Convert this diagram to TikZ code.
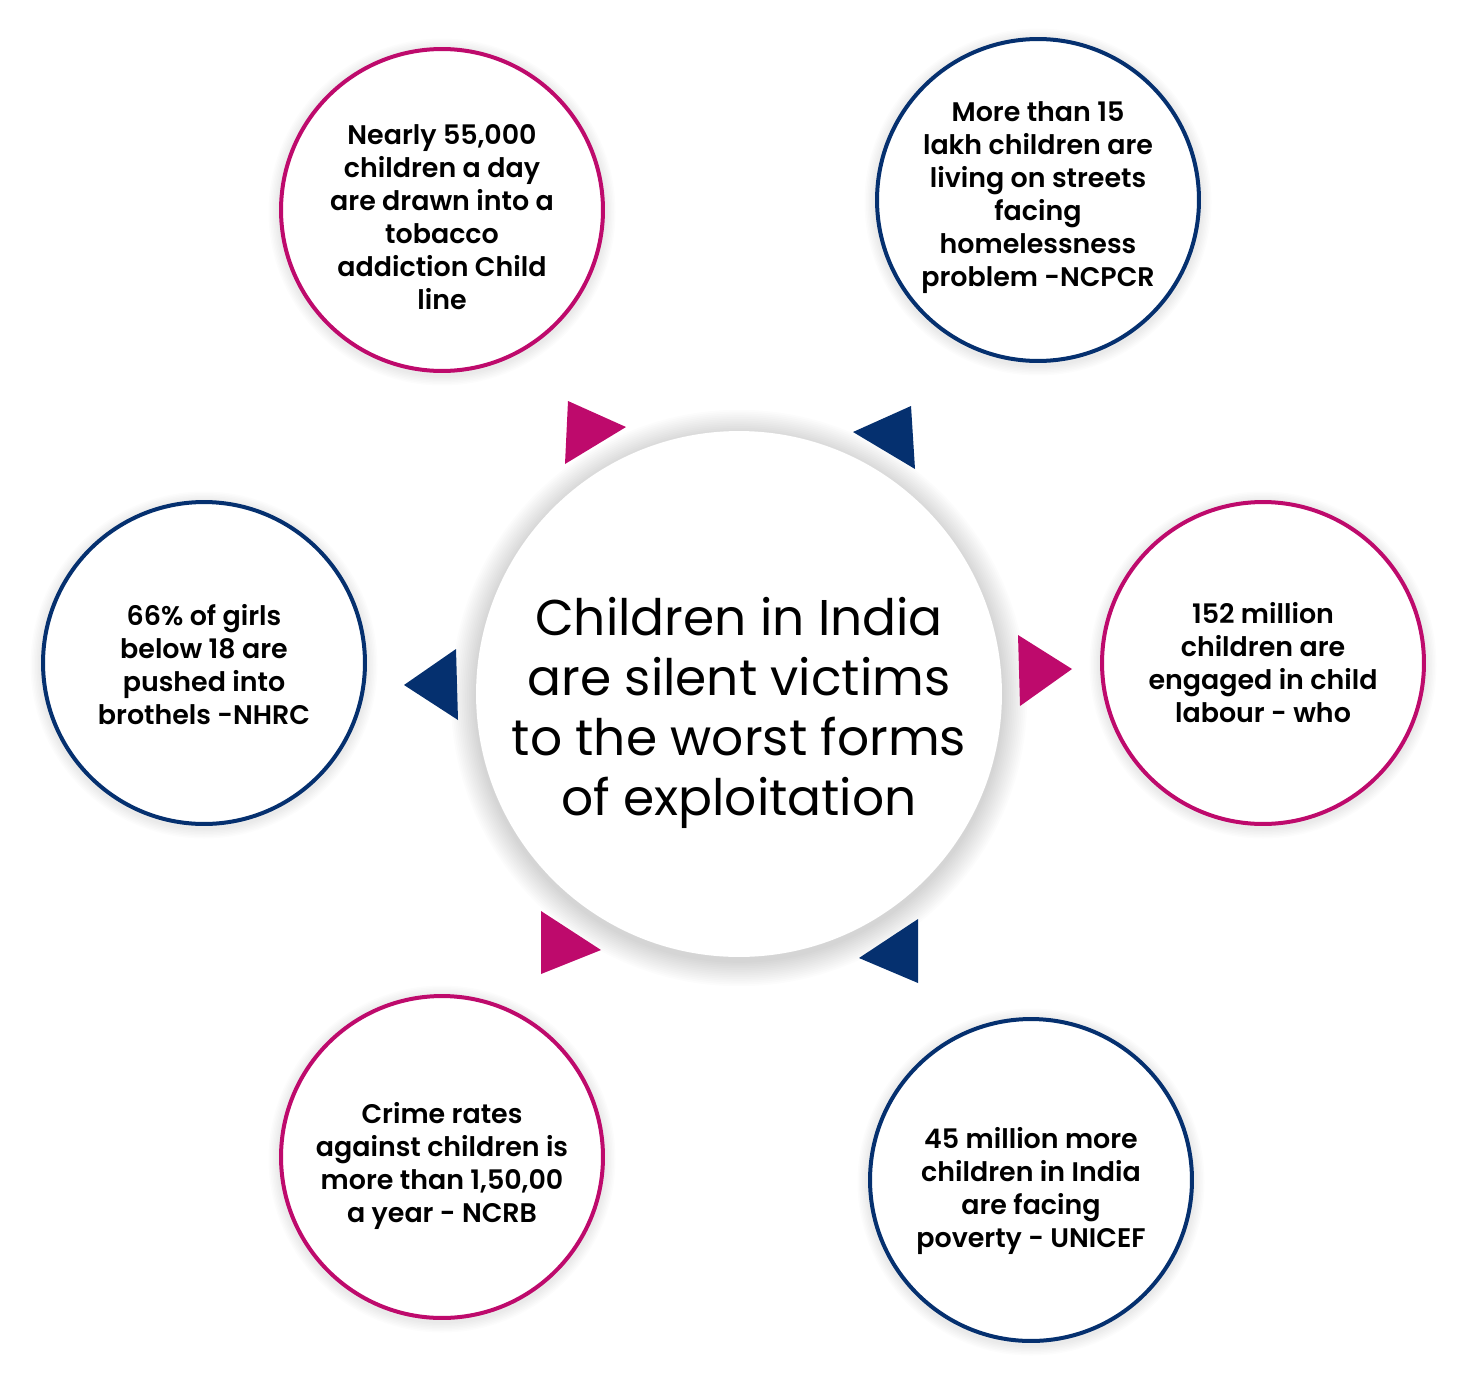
\documentclass[tikz,border=0pt]{standalone}
\usepackage{fontspec}
\setmainfont{Poppins}[BoldFont={Poppins SemiBold}]
\usetikzlibrary{backgrounds}

\definecolor{berry}{RGB}{190,10,108}
\definecolor{navyblue}{RGB}{5,48,111}

\begin{document}
\begin{tikzpicture}[
  x=0.02cm, y=-0.02cm,
  every node/.style={align=center},
  ring/.style={circle, draw=#1, line width=0.08cm, fill=white, minimum size=6.44cm, inner sep=0pt},
  fact/.style={inner sep=0pt, font=\fontsize{15.3}{18.8}\selectfont\bfseries},
  hub/.style={circle, fill=white, minimum size=10.52cm, inner sep=0pt},
  hubtext/.style={inner sep=0pt, font=\fontsize{28.6}{34.2}\selectfont},
  pointer/.style={fill=#1}
]
  \useasboundingbox (0,0) rectangle (1479,1389);

  % Centre
  \node[hub] (hub) at (739,694) {};
  \node[hubtext, yshift=-0.38cm] (hubtext) at (hub) {Children in India\\are silent victims\\to the worst forms\\of exploitation};

  % Facts round the centre
  \node[ring=berry] (tobacco) at (442,210) {};
  \node[fact, yshift=-0.14cm] (tobaccotext) at (tobacco) {Nearly 55,000\\children a day\\are drawn into a\\tobacco\\addiction Child\\line};
  \node[ring=navyblue] (streets) at (1038,200) {};
  \node[fact, yshift=0.05cm] (streetstext) at (streets) {More than 15\\lakh children are\\living on streets\\facing\\homelessness\\problem -NCPCR};
  \node[ring=navyblue] (brothels) at (204,663) {};
  \node[fact, yshift=-0.04cm] (brothelstext) at (brothels) {66\% of girls\\below 18 are\\pushed into\\brothels -NHRC};
  \node[ring=berry] (labour) at (1263,663) {};
  \node[fact, yshift=0.01cm] (labourtext) at (labour) {152 million\\children are\\engaged in child\\labour - who};
  \node[ring=berry] (crime) at (442,1157) {};
  \node[fact, yshift=-0.18cm] (crimetext) at (crime) {Crime rates\\against children is\\more than 1,50,00\\a year - NCRB};
  \node[ring=navyblue] (poverty) at (1031,1180) {};
  \node[fact, yshift=-0.22cm] (povertytext) at (poverty) {45 million more\\children in India\\are facing\\poverty - UNICEF};

  % Soft shadows
  \begin{scope}[on background layer]
    \foreach \k in {1,...,14}
      \fill[black, opacity=0.013] ([yshift=-0.08cm]hub.center) circle[radius=263+1.8*\k];
    \foreach \c in {tobacco,streets,brothels,labour,crime,poverty}
      \foreach \k in {1,...,7}
        \fill[black, opacity=0.01] ([yshift=-0.04cm]\c.center) circle[radius=163+1.5*\k];
  \end{scope}

  % Pointers
  \fill[pointer=berry] (568,401) -- (565,464) -- (626,427) -- cycle;
  \fill[pointer=navyblue] (911,406) -- (915,469) -- (853,432) -- cycle;
  \fill[pointer=navyblue] (456,649) -- (458,720) -- (404,685) -- cycle;
  \fill[pointer=berry] (1018,635) -- (1020,706) -- (1072,669) -- cycle;
  \fill[pointer=berry] (541,911) -- (541,974) -- (601,950) -- cycle;
  \fill[pointer=navyblue] (918,919) -- (918,983) -- (859,958) -- cycle;
\end{tikzpicture}
\end{document}
